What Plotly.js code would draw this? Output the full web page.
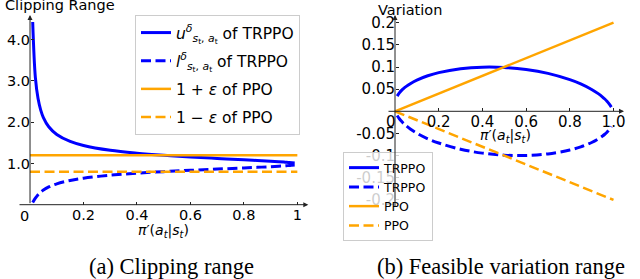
<!DOCTYPE html>
<html>
<head>
<meta charset="utf-8">
<script src="https://cdn.plot.ly/plotly-3.0.1.min.js"></script>
<style>
  html, body { margin: 0; padding: 0; background: #fff; }
  #chart { width: 640px; height: 279px; }
</style>
</head>
<body>
<div id="chart"></div>
<script>
// ---- data ----
const piOld = [0.01, 0.02, 0.03, 0.04, 0.05, 0.07, 0.1, 0.15, 0.2, 0.3, 0.4, 0.5,
               0.6, 0.7, 0.8, 0.85, 0.9, 0.93, 0.95, 0.96, 0.97, 0.98, 0.99];
// (a) clipping range of TRPPO
const uTRPPO = [4.43, 3.08, 2.573, 2.295, 2.114, 1.891, 1.704, 1.535, 1.437, 1.320, 1.249, 1.198,
                1.157, 1.122, 1.089, 1.073, 1.055, 1.043, 1.034, 1.029, 1.023, 1.017, 1.0096];
const lTRPPO = [0.053, 0.16, 0.243, 0.305, 0.356, 0.430, 0.506, 0.587, 0.643, 0.715, 0.764, 0.802,
                0.834, 0.863, 0.891, 0.906, 0.922, 0.933, 0.941, 0.946, 0.951, 0.958, 0.965];
const ppoX = [0, 1];
const ppoUpper = [1.2, 1.2];
const ppoLower = [0.8, 0.8];
// (b) feasible variation range
const varUpTRPPO = [0.0343, 0.0416, 0.0472, 0.0518, 0.0557, 0.0624, 0.0704, 0.0802, 0.0873, 0.0961, 0.0997, 0.0990,
                    0.0944, 0.0856, 0.0715, 0.0620, 0.0494, 0.0399, 0.0322, 0.0278, 0.0227, 0.0168, 0.0095];
const varLowTRPPO = [-0.0095, -0.0168, -0.0227, -0.0278, -0.0322, -0.0399, -0.0494, -0.0620, -0.0715, -0.0856, -0.0944, -0.0990,
                     -0.0997, -0.0961, -0.0873, -0.0802, -0.0704, -0.0624, -0.0557, -0.0518, -0.0472, -0.0416, -0.0343];
const varUpPPO = [0, 0.2];
const varLowPPO = [0, -0.2];

// tick labels
const leftXTicks = [0.2, 0.4, 0.6, 0.8, 1];
const leftXTickText = ['0.2', '0.4', '0.6', '0.8', '1'];
const leftYTicks = [1, 2, 3, 4];
const leftYTickText = ['1.0', '2.0', '3.0', '4.0'];
const rightXTicks = [0.2, 0.4, 0.6, 0.8, 1.0];
const rightXTickText = ['0.2', '0.4', '0.6', '0.8', '1.0'];
const rightYTicks = [0.2, 0.15, 0.1, 0.05, -0.05, -0.1, -0.15, -0.2];
const rightYTickText = ['0.2', '0.15', '0.1', '0.05', '-0.05', '-0.1', '-0.15', '-0.2'];

const BLUE = '#0000ff';
const ORANGE = '#ffa500';
const DASH = '10px,4.5px';
const FONT = 'DejaVu Sans, sans-serif';
const SERIF = 'Liberation Serif, Times New Roman, serif';
const W = 640, H = 279;
const px = v => v / W;          // pixel -> paper x
const py = v => 1 - v / H;      // pixel -> paper y

const piLabel = '<i>π</i>′(<i>a</i><sub><i>t</i></sub>|<i>s</i><sub><i>t</i></sub>)';

const traces = [
  { x: piOld, y: uTRPPO, xaxis: 'x', yaxis: 'y', mode: 'lines', legendgroup: 'a1',
    name: '<i>u</i><sup><i>δ</i></sup><sub><i>s</i><sub>t</sub>, <i>a</i><sub>t</sub></sub> of TRPPO',
    line: { color: BLUE, width: 3, shape: 'spline', smoothing: 1 } },
  { x: piOld, y: lTRPPO, xaxis: 'x', yaxis: 'y', mode: 'lines', legendgroup: 'a2',
    name: '<i>l</i><sup><i>δ</i></sup><sub><i>s</i><sub>t</sub>, <i>a</i><sub>t</sub></sub> of TRPPO',
    line: { color: BLUE, width: 3, dash: DASH, shape: 'spline', smoothing: 1 } },
  { x: ppoX, y: ppoUpper, xaxis: 'x', yaxis: 'y', mode: 'lines', legendgroup: 'a3',
    name: '1 + <i>ε</i> of PPO', line: { color: ORANGE, width: 2.5 } },
  { x: ppoX, y: ppoLower, xaxis: 'x', yaxis: 'y', mode: 'lines', legendgroup: 'a4',
    name: '1 − <i>ε</i> of PPO', line: { color: ORANGE, width: 2.5, dash: DASH } },

  { x: piOld, y: varUpTRPPO, xaxis: 'x2', yaxis: 'y2', mode: 'lines', legend: 'legend2',
    name: 'TRPPO', line: { color: BLUE, width: 3, shape: 'spline', smoothing: 1 } },
  { x: piOld, y: varLowTRPPO, xaxis: 'x2', yaxis: 'y2', mode: 'lines', legend: 'legend2',
    name: 'TRPPO', line: { color: BLUE, width: 3, dash: DASH, shape: 'spline', smoothing: 1 } },
  { x: ppoX, y: varUpPPO, xaxis: 'x2', yaxis: 'y2', mode: 'lines', legend: 'legend2',
    name: 'PPO', line: { color: ORANGE, width: 2.5 } },
  { x: ppoX, y: varLowPPO, xaxis: 'x2', yaxis: 'y2', mode: 'lines', legend: 'legend2',
    name: 'PPO', line: { color: ORANGE, width: 2.5, dash: DASH } }
];

const axisCommon = {
  showgrid: false, zeroline: false, showline: false,
  ticks: 'inside', ticklen: 3, tickwidth: 1, tickcolor: '#222',
  tickfont: { family: FONT, size: 14.5, color: '#000' },
  tickmode: 'array', fixedrange: true
};

function label(xp, yp, text, size, family, xanchor) {
  return { xref: 'paper', yref: 'paper', x: px(xp), y: py(yp), text: text, showarrow: false,
           xanchor: xanchor || 'center', yanchor: 'middle',
           font: { family: family || FONT, size: size, color: '#000' } };
}
function axisArrow(xr, yr, x, y, ax, ay) {
  return { xref: xr, yref: yr, axref: xr, ayref: yr, x: x, y: y, ax: ax, ay: ay,
           text: '', showarrow: true, arrowhead: 2, arrowsize: 1, arrowwidth: 1, arrowcolor: '#222' };
}

const layout = {
  width: W, height: H,
  margin: { l: 0, r: 0, t: 0, b: 0 },
  paper_bgcolor: '#fff', plot_bgcolor: 'rgba(0,0,0,0)',
  showlegend: true,
  xaxis: Object.assign({}, axisCommon, {
    domain: [px(18), px(308.3)], range: [-0.045, 1.041], anchor: 'y',
    tickvals: leftXTicks, ticktext: leftXTickText
  }),
  yaxis: Object.assign({}, axisCommon, {
    domain: [py(204.7), py(15)], range: [0, 4.6], anchor: 'free', position: px(30),
    tickvals: leftYTicks, ticktext: leftYTickText
  }),
  xaxis2: Object.assign({}, axisCommon, {
    domain: [px(387), px(624)], range: [-0.0366, 1.048], anchor: 'free', position: py(111.3),
    tickvals: rightXTicks, ticktext: rightXTickText,
    tickfont: { family: FONT, size: 15, color: '#000' }
  }),
  yaxis2: Object.assign({}, axisCommon, {
    domain: [py(207.8), py(15)], range: [-0.2178, 0.2174], anchor: 'free', position: px(395),
    tickvals: rightYTicks, ticktext: rightYTickText,
    tickfont: { family: FONT, size: 15, color: '#000' }
  }),
  legend: {
    x: px(135), y: py(15), xanchor: 'left', yanchor: 'top',
    bgcolor: 'rgba(255,255,255,0.8)', bordercolor: '#cccccc', borderwidth: 1,
    font: { family: FONT, size: 15.5, color: '#000' },
    tracegroupgap: 5, traceorder: 'grouped'
  },
  legend2: {
    x: px(343), y: py(152), xanchor: 'left', yanchor: 'top',
    bgcolor: 'rgba(255,255,255,0.8)', bordercolor: '#cccccc', borderwidth: 1,
    font: { family: FONT, size: 12.5, color: '#000' },
    tracegroupgap: 0, traceorder: 'normal'
  },
  annotations: [
    axisArrow('x', 'y', 1.041, 0, -0.045, 0),
    axisArrow('x', 'y', 0, 4.6, 0, 0),
    axisArrow('x2', 'y2', 1.048, 0, -0.0366, 0),
    axisArrow('x2', 'y2', 0, 0.2174, 0, -0.2178),
    label(24, 216, '0', 14.5),
    label(391, 122, '0', 15),
    label(3, 5, 'Clipping Range', 14.5, FONT, 'left'),
    label(410, 9.5, 'Variation', 14.5),
    label(163, 231, piLabel, 14),
    label(505, 136, piLabel, 14),
    label(171, 266, '(a) Clipping range', 22.5, SERIF),
    label(501, 266, '(b) Feasible variation range', 22.5, SERIF)
  ]
};

Plotly.newPlot('chart', traces, layout, { displayModeBar: false, staticPlot: true });
</script>
</body>
</html>
